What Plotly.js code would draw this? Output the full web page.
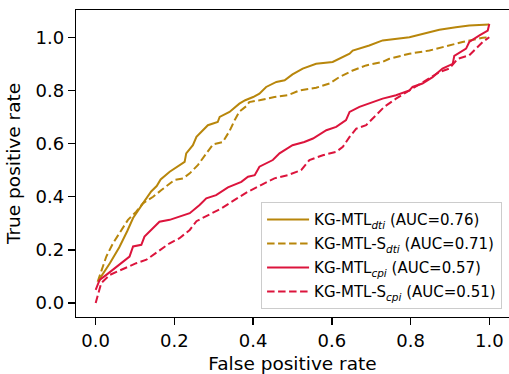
<!DOCTYPE html>
<html>
<head>
<meta charset="utf-8">
<script src="https://cdn.plot.ly/plotly-3.0.1.min.js"></script>
<style>html,body{margin:0;padding:0;overflow:hidden;background:#fff}</style>
</head>
<body>
<div id="chart" style="width:509px;height:374px"></div>
<script>
// Series names
const seriesNames = [
  "KG-MTL<sub><i>dti</i></sub> (AUC=0.76)",
  "KG-MTL-S<sub><i>dti</i></sub> (AUC=0.71)",
  "KG-MTL<sub><i>cpi</i></sub> (AUC=0.57)",
  "KG-MTL-S<sub><i>cpi</i></sub> (AUC=0.51)"
];

// KG-MTL dti (solid gold)
const dtiFpr = [0.008,0.014,0.036,0.06,0.08,0.095,0.12,0.141,0.155,0.165,0.188,0.209,0.226,0.23,0.247,0.256,0.264,0.272,0.285,0.31,0.315,0.34,0.365,0.38,0.40,0.416,0.433,0.459,0.48,0.50,0.526,0.56,0.602,0.645,0.653,0.695,0.729,0.797,0.83,0.873,0.915,0.949,1.0];
const dtiTpr = [0.08,0.10,0.15,0.21,0.27,0.32,0.375,0.42,0.44,0.465,0.494,0.513,0.531,0.563,0.594,0.625,0.638,0.65,0.669,0.681,0.70,0.719,0.75,0.763,0.775,0.788,0.813,0.832,0.838,0.86,0.882,0.90,0.907,0.938,0.95,0.969,0.988,1.00,1.013,1.028,1.038,1.044,1.048];

// KG-MTL-S dti (dashed gold)
const dtiSFpr = [0.005,0.01,0.014,0.027,0.044,0.065,0.082,0.103,0.12,0.133,0.146,0.167,0.184,0.20,0.222,0.239,0.26,0.277,0.298,0.323,0.34,0.353,0.365,0.382,0.39,0.416,0.454,0.488,0.518,0.56,0.594,0.619,0.653,0.687,0.729,0.746,0.797,0.848,0.881,0.932,0.983,1.0];
const dtiSTpr = [0.08,0.10,0.119,0.175,0.225,0.275,0.313,0.344,0.375,0.388,0.40,0.425,0.444,0.463,0.469,0.488,0.52,0.555,0.597,0.606,0.647,0.688,0.72,0.74,0.756,0.763,0.775,0.782,0.80,0.81,0.826,0.85,0.875,0.894,0.907,0.919,0.938,0.95,0.963,0.982,0.998,1.0];

// KG-MTL cpi (solid red)
const cpiFpr = [0.0,0.01,0.027,0.048,0.065,0.086,0.095,0.116,0.124,0.15,0.162,0.188,0.213,0.239,0.264,0.281,0.306,0.336,0.37,0.387,0.404,0.416,0.45,0.467,0.48,0.50,0.53,0.552,0.586,0.611,0.636,0.645,0.67,0.695,0.729,0.763,0.797,0.805,0.83,0.856,0.881,0.907,0.911,0.941,0.949,0.975,0.996,1.0];
const cpiTpr = [0.05,0.087,0.106,0.131,0.15,0.175,0.213,0.219,0.25,0.288,0.306,0.313,0.325,0.338,0.369,0.394,0.406,0.435,0.456,0.475,0.481,0.513,0.538,0.563,0.575,0.594,0.606,0.619,0.65,0.663,0.688,0.719,0.738,0.75,0.769,0.782,0.80,0.813,0.826,0.85,0.882,0.90,0.93,0.957,0.982,1.007,1.025,1.05];

// KG-MTL-S cpi (dashed red)
const cpiSFpr = [0.0,0.006,0.014,0.036,0.069,0.103,0.129,0.154,0.188,0.213,0.239,0.256,0.285,0.319,0.353,0.387,0.42,0.454,0.488,0.522,0.543,0.577,0.611,0.628,0.645,0.662,0.687,0.70,0.712,0.733,0.763,0.797,0.848,0.873,0.898,0.92,0.949,0.966,0.983,1.0];
const cpiSTpr = [0.0,0.037,0.075,0.106,0.128,0.15,0.163,0.188,0.225,0.244,0.275,0.308,0.331,0.356,0.388,0.419,0.444,0.469,0.481,0.50,0.538,0.556,0.569,0.588,0.625,0.656,0.669,0.688,0.706,0.738,0.769,0.80,0.844,0.869,0.882,0.919,0.932,0.957,0.982,1.0];

const tickVals = [0, 0.2, 0.4, 0.6, 0.8, 1.0];
const tickText = ["0.0", "0.2", "0.4", "0.6", "0.8", "1.0"];

const gold = "#B8860B";
const red = "#DC143C";

const traces = [
  {x: dtiFpr, y: dtiTpr, name: seriesNames[0], legendgroup: "a", mode: "lines", line: {color: gold, width: 2}},
  {x: dtiSFpr, y: dtiSTpr, name: seriesNames[1], legendgroup: "b", mode: "lines", line: {color: gold, width: 2, dash: "7.5px,3.5px"}},
  {x: cpiFpr, y: cpiTpr, name: seriesNames[2], legendgroup: "c", mode: "lines", line: {color: red, width: 2}},
  {x: cpiSFpr, y: cpiSTpr, name: seriesNames[3], legendgroup: "d", mode: "lines", line: {color: red, width: 2, dash: "7.5px,3.5px"}}
];

const font = {family: "DejaVu Sans, sans-serif", color: "#000"};

const layout = {
  width: 509, height: 374,
  margin: {l: 76, r: 0, t: 10, b: 57},
  paper_bgcolor: "#fff", plot_bgcolor: "#fff",
  font: Object.assign({size: 18}, font),
  showlegend: true,
  xaxis: {
    range: [-0.05, 1.05], showgrid: false, zeroline: false,
    showline: true, linecolor: "#000", linewidth: 1.3, mirror: true,
    ticks: "outside", ticklen: 7, tickwidth: 1.3, tickcolor: "#000",
    tickvals: tickVals, ticktext: tickText,
    tickfont: Object.assign({size: 18}, font),
    title: {text: "False positive rate", font: Object.assign({size: 18.5}, font), standoff: 10}
  },
  yaxis: {
    range: [-0.0525, 1.1025], showgrid: false, zeroline: false,
    showline: true, linecolor: "#000", linewidth: 1.3,
    ticks: "outside", ticklen: 7, tickwidth: 1.3, tickcolor: "#000",
    tickvals: tickVals, ticktext: tickText,
    tickfont: Object.assign({size: 18}, font),
    title: {text: "True positive rate", font: Object.assign({size: 18.5}, font), standoff: 10}
  },
  legend: {
    x: 0.984, y: 0.025, xanchor: "right", yanchor: "bottom",
    bgcolor: "rgba(255,255,255,0.8)", bordercolor: "#cccccc", borderwidth: 1,
    font: Object.assign({size: 15}, font),
    itemwidth: 42, tracegroupgap: 1.5
  }
};

Plotly.newPlot("chart", traces, layout, {displayModeBar: false, staticPlot: true});
</script>
</body>
</html>
